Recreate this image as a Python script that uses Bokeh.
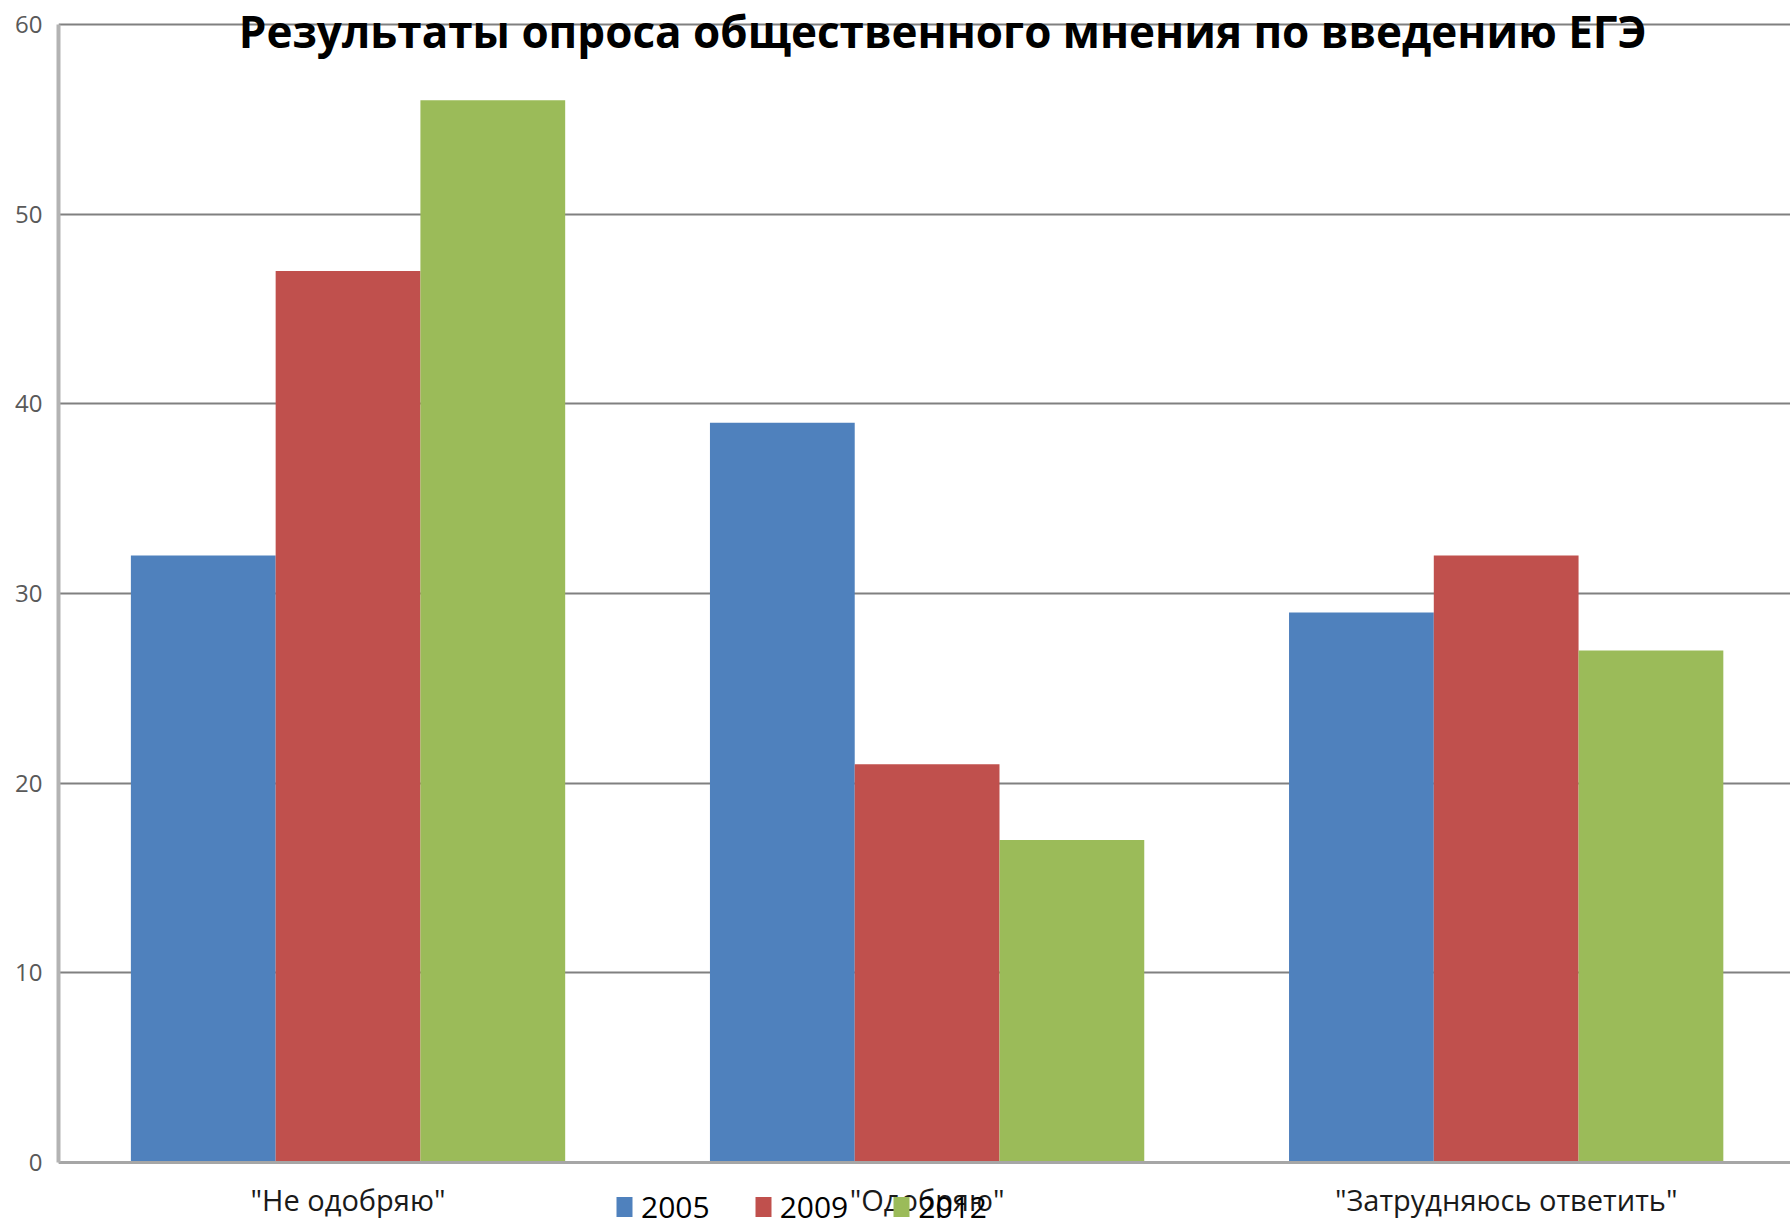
from bokeh.plotting import figure
from bokeh.models import Range1d, FixedTicker, Legend, LegendItem, Label, ColumnDataSource
from bokeh.transform import dodge
from bokeh.embed import file_html
from bokeh.resources import INLINE

title_text = "Результаты опроса общественного мнения по введению ЕГЭ"
categories = ['"Не одобряю"', '"Одобряю"', '"Затрудняюсь ответить"']
years = ["2005", "2009", "2012"]
v2005 = [32, 39, 29]
v2009 = [47, 21, 32]
v2012 = [56, 17, 27]
y_ticks = [0, 10, 20, 30, 40, 50, 60]
colors = ["#4F81BD", "#C0504D", "#9BBB59"]

src = ColumnDataSource(dict(idx=list(range(len(categories))), v2005=v2005, v2009=v2009, v2012=v2012))

p = figure(width=1790, height=1227, x_range=Range1d(-0.5, 2.491), y_range=Range1d(-3.427, 61.265),
           output_backend="svg", toolbar_location=None,
           min_border_left=58, min_border_top=0, min_border_right=0, min_border_bottom=0)
p.outline_line_color = None
p.background_fill_color = "white"
p.border_fill_color = "white"

renderers = []
for field, off, c in zip(["v2005", "v2009", "v2012"], [-0.25, 0.0, 0.25], colors):
    r = p.vbar(x=dodge("idx", off), top=field, bottom=0, width=0.25, source=src,
               fill_color=c, line_color=None)
    renderers.append(r)

# grid
p.xgrid.visible = False
p.ygrid.ticker = FixedTicker(ticks=y_ticks)
p.ygrid.grid_line_color = "#808080"
p.ygrid.grid_line_width = 2
p.ygrid.level = "underlay"

# x axis (fixed at value 0)
xa = p.xaxis[0]
xa.fixed_location = 0
xa.ticker = FixedTicker(ticks=list(range(len(categories))))
xa.major_label_overrides = {i: c for i, c in enumerate(categories)}
xa.axis_line_color = "#a6a6a6"
xa.axis_line_width = 3
xa.major_tick_line_color = None
xa.minor_tick_line_color = None
xa.major_label_standoff = 11
xa.major_label_text_font = "Open Sans"
xa.major_label_text_font_size = "29px"
xa.major_label_text_color = "#1a1a1a"

# y axis
ya = p.yaxis[0]
ya.bounds = (0, 60)
ya.ticker = FixedTicker(ticks=y_ticks)
ya.axis_line_color = "#b3b3b3"
ya.axis_line_width = 4
ya.major_tick_line_color = None
ya.minor_tick_line_color = None
ya.major_label_standoff = 10
ya.major_label_text_font = "Open Sans"
ya.major_label_text_font_size = "24px"
ya.major_label_text_color = "#595959"

# title drawn over the top gridline
p.add_layout(Label(x=1.027, y=59.683, text=title_text, text_align="center", text_baseline="alphabetic",
                   text_font="Open Sans", text_font_style="bold", text_font_size="44px",
                   text_color="black"))

legend = Legend(items=[LegendItem(label=y, renderers=[r]) for y, r in zip(years, renderers)],
                location=(556, 0), orientation="horizontal", padding=0, margin=0,
                spacing=43, glyph_width=20, glyph_height=25, label_standoff=7,
                label_text_font="Open Sans", label_text_font_size="30px",
                label_text_color="black", background_fill_alpha=0, border_line_color=None)
p.add_layout(legend, "center")

open("out.html", "w").write(file_html(p, INLINE))
